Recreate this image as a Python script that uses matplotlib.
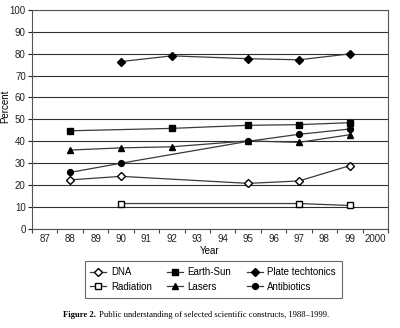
import numpy as np
import matplotlib
matplotlib.use("Agg")
import matplotlib.pyplot as plt

# categories on the x axis
years = ["87", "88", "89", "90", "91", "92", "93", "94", "95", "96", "97", "98", "99", "2000"]

# series (year label -> percent)
dna_years = ["88", "90", "95", "97", "99"]
dna_vals = [22.4, 24.0, 20.8, 21.9, 28.9]

radiation_years = ["90", "97", "99"]
radiation_vals = [11.6, 11.6, 10.7]

earth_years = ["88", "92", "95", "97", "99"]
earth_vals = [44.8, 45.9, 47.3, 47.6, 48.5]

lasers_years = ["88", "90", "92", "95", "97", "99"]
lasers_vals = [36.0, 37.0, 37.5, 40.2, 39.5, 43.0]

plate_years = ["90", "92", "95", "97", "99"]
plate_vals = [76.4, 79.0, 77.7, 77.2, 79.9]

antib_years = ["88", "90", "95", "97", "99"]
antib_vals = [25.8, 30.0, 40.0, 43.2, 45.6]

plt.rcParams['font.family'] = ['Liberation Sans', 'DejaVu Sans']

fig = plt.figure(figsize=(4.0, 3.28), dpi=100)
ax = fig.add_axes([0.08, 0.302, 0.89, 0.668])

def pos(lst):
    return [years.index(y) for y in lst]

lc = "#3a3a3a"
kw = dict(color=lc, lw=0.9, markeredgecolor="black")
h_dna, = ax.plot(pos(dna_years), dna_vals, marker="D", markerfacecolor="white", markersize=3.6, **kw)
h_rad, = ax.plot(pos(radiation_years), radiation_vals, marker="s", markerfacecolor="white", markersize=4.2, **kw)
h_es, = ax.plot(pos(earth_years), earth_vals, marker="s", markerfacecolor="black", markersize=4.2, **kw)
h_las, = ax.plot(pos(lasers_years), lasers_vals, marker="^", markerfacecolor="black", markersize=4.2, **kw)
h_pt, = ax.plot(pos(plate_years), plate_vals, marker="D", markerfacecolor="black", markersize=3.6, **kw)
h_ab, = ax.plot(pos(antib_years), antib_vals, marker="o", markerfacecolor="black", markersize=4.2, **kw)

ax.set_xlim(-0.5, len(years) - 0.5)
ax.set_ylim(0, 100)
ax.set_yticks(np.arange(0, 101, 10))
ax.yaxis.grid(True, color="#303030", lw=0.8)
ax.set_axisbelow(True)

# ticks between categories, labels at centres
ax.set_xticks(np.arange(-0.5, len(years), 1.0))
ax.set_xticklabels([])
ax.set_xticks(np.arange(len(years)), minor=True)
ax.set_xticklabels(years, minor=True)
ax.tick_params(axis="x", which="minor", length=0, labelsize=7, colors="#222222", pad=4)
ax.tick_params(axis="x", which="major", length=3, direction="out", color="#444444")
ax.tick_params(axis="y", labelsize=7, length=3, direction="out", colors="#222222", pad=1.5)

for s in ax.spines.values():
    s.set_color("#555555")
    s.set_linewidth(0.8)

ax.set_xlabel("Year", fontsize=7, labelpad=1)
ax.set_ylabel("Percent", fontsize=7)
ax.yaxis.set_label_coords(-0.062, 0.56)

leg = fig.legend([h_dna, h_rad, h_es, h_las, h_pt, h_ab],
                 ["DNA", "Radiation", "Earth-Sun", "Lasers", "Plate techtonics", "Antibiotics"],
                 ncol=3, loc="center", bbox_to_anchor=(0.533, 0.148), fontsize=7,
                 frameon=True, fancybox=False, edgecolor="#444444", handlelength=1.6,
                 columnspacing=1.6, handletextpad=0.5, labelspacing=0.5, borderpad=0.6)
leg.get_frame().set_linewidth(0.8)

# caption: bold "Figure 2." followed by regular text
serif = ["Liberation Serif", "DejaVu Serif"]
t1 = fig.text(0.158, 0.04, "Figure 2.", ha="left", va="center", fontsize=6.2,
              fontweight="bold", family=serif)
fig.canvas.draw()
bb = t1.get_window_extent().transformed(fig.transFigure.inverted())
fig.text(bb.x1 + 0.008, 0.04, "Public understanding of selected scientific constructs, 1988–1999.",
         ha="left", va="center", fontsize=6.2, family=serif)

fig.savefig("out.png", dpi=100, facecolor="white")
